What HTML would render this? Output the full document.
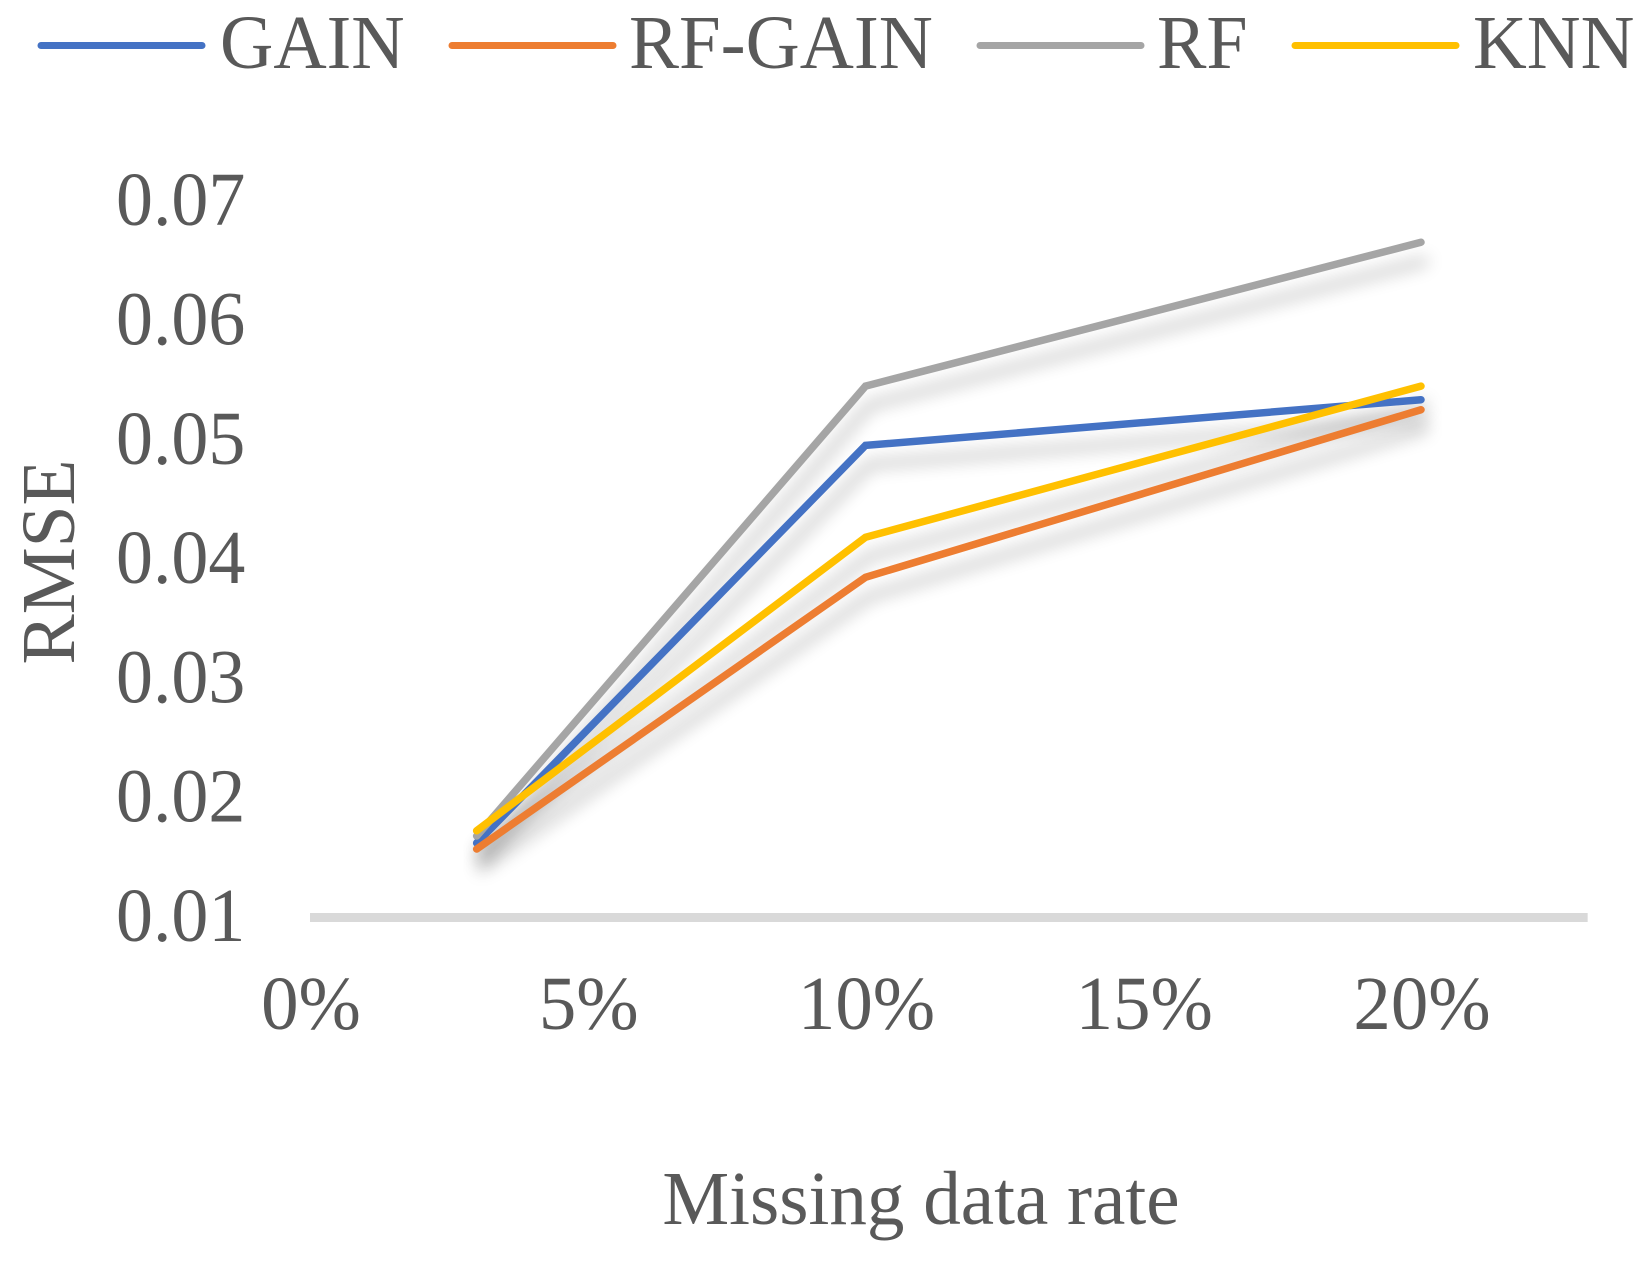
<!DOCTYPE html>
<html lang="en">
<head>
<meta charset="utf-8">
<title>RMSE vs Missing data rate</title>
<style>
html,body{margin:0;padding:0;background:#fff;width:1651px;height:1262px;overflow:hidden}
svg{display:block}
text{font-family:"Liberation Serif","Times New Roman",serif;fill:#595959}
</style>
</head>
<body>
<svg id="chart" xmlns="http://www.w3.org/2000/svg" width="1651" height="1262" viewBox="0 0 1651 1262">
  <defs>
    <filter id="line-shadow" filterUnits="userSpaceOnUse" x="0" y="0" width="1651" height="1262">
      <feGaussianBlur in="SourceAlpha" stdDeviation="8.5"/>
      <feOffset dx="4" dy="19"/>
      <feComponentTransfer><feFuncA type="linear" slope="0.26"/></feComponentTransfer>
    </filter>
  </defs>
  <rect x="0" y="0" width="1651" height="1262" fill="#fff"/>
  <g id="x-axis-group"></g>
  <g id="y-axis-group"></g>
  <g id="shadow-group"></g>
  <g id="series-group"></g>
  <g id="legend-group"></g>
  <text id="y-title" transform="translate(74,562) rotate(-90)" text-anchor="middle" font-size="76">RMSE</text>
  <text id="x-title" x="921" y="1224" text-anchor="middle" font-size="76">Missing data rate</text>
</svg>
<script>
const missingRates = [3, 10, 20];
const gainValues = [0.01624, 0.04957, 0.0534];
const rfGainValues = [0.01574, 0.03852, 0.05256];
const rfValues = [0.01683, 0.05454, 0.0666];
const knnValues = [0.01727, 0.04187, 0.05454];
const yTicks = [0.01, 0.02, 0.03, 0.04, 0.05, 0.06, 0.07];
const yTickLabels = ["0.01", "0.02", "0.03", "0.04", "0.05", "0.06", "0.07"];
const xTicks = [0, 5, 10, 15, 20];
const xTickLabels = ["0%", "5%", "10%", "15%", "20%"];
const seriesNames = ["GAIN", "RF-GAIN", "RF", "KNN"];
const seriesKeys = ["gain", "rf-gain", "rf", "knn"];
const seriesColors = ["#4472C4", "#ED7D31", "#A5A5A5", "#FFC000"];
const seriesValues = [gainValues, rfGainValues, rfValues, knnValues];

const NS = "http://www.w3.org/2000/svg";
function xScale(v) { return 310 + v * 55.55; }
function yScale(v) { return 917.5 - (v - 0.01) * 11930; }
function make(tag, attrs, parent) {
  const el = document.createElementNS(NS, tag);
  for (const k in attrs) el.setAttribute(k, attrs[k]);
  parent.appendChild(el);
  return el;
}
function squeeze(el, factor) {
  el.setAttribute("textLength", (el.getComputedTextLength() * factor).toFixed(1));
  el.setAttribute("lengthAdjust", "spacingAndGlyphs");
}

const xGroup = document.getElementById("x-axis-group");
const yGroup = document.getElementById("y-axis-group");
const shadowGroup = document.getElementById("shadow-group");
const seriesGroup = document.getElementById("series-group");
const legendGroup = document.getElementById("legend-group");

const axisLine = make("line", {x1: xScale(0), x2: xScale(23), y1: yScale(0.01), y2: yScale(0.01), stroke: "#D9D9D9", "stroke-width": 9}, xGroup);



xTicks.forEach(function (t, i) {
  const label = make("text", {x: xScale(t) + 1, y: 1029, "text-anchor": "middle", "font-size": 76}, xGroup);
  label.textContent = xTickLabels[i];
  
  
  squeeze(label, 0.985);
});

yTicks.forEach(function (t, i) {
  const label = make("text", {x: 116, y: yScale(t) + 23.5, "font-size": 76}, yGroup);
  label.textContent = yTickLabels[i];
  
  
  squeeze(label, 0.972);
});

seriesValues.forEach(function (vals, s) {
  const pts = vals.map(function (v, i) { return xScale(missingRates[i]) + "," + yScale(v); }).join(" ");
  const shade = make("polyline", {points: pts, fill: "none", stroke: "#000", "stroke-width": 7.5, "stroke-linecap": "round", filter: "url(#line-shadow)"}, shadowGroup);
  
  
  const line = make("polyline", {points: pts, fill: "none", stroke: seriesColors[s], "stroke-width": 7.5, "stroke-linecap": "round", "stroke-linejoin": "miter"}, seriesGroup);
  
  
});

const legendLineStarts = [41, 452, 980, 1295];
const legendTextStarts = [220, 629, 1157, 1473];
const legendSqueeze = [0.972, 0.986, 0.975, 0.98];
seriesNames.forEach(function (name, s) {
  const swatch = make("line", {x1: legendLineStarts[s], x2: legendLineStarts[s] + 161, y1: 45.5, y2: 45.5, stroke: seriesColors[s], "stroke-width": 7, "stroke-linecap": "round"}, legendGroup);
  
  
  const label = make("text", {x: legendTextStarts[s], y: 68, "font-size": 76}, legendGroup);
  label.textContent = name;
  
  
  squeeze(label, legendSqueeze[s]);
});
squeeze(document.getElementById("x-title"), 0.988);
squeeze(document.getElementById("y-title"), 0.99);
</script>
</body>
</html>
